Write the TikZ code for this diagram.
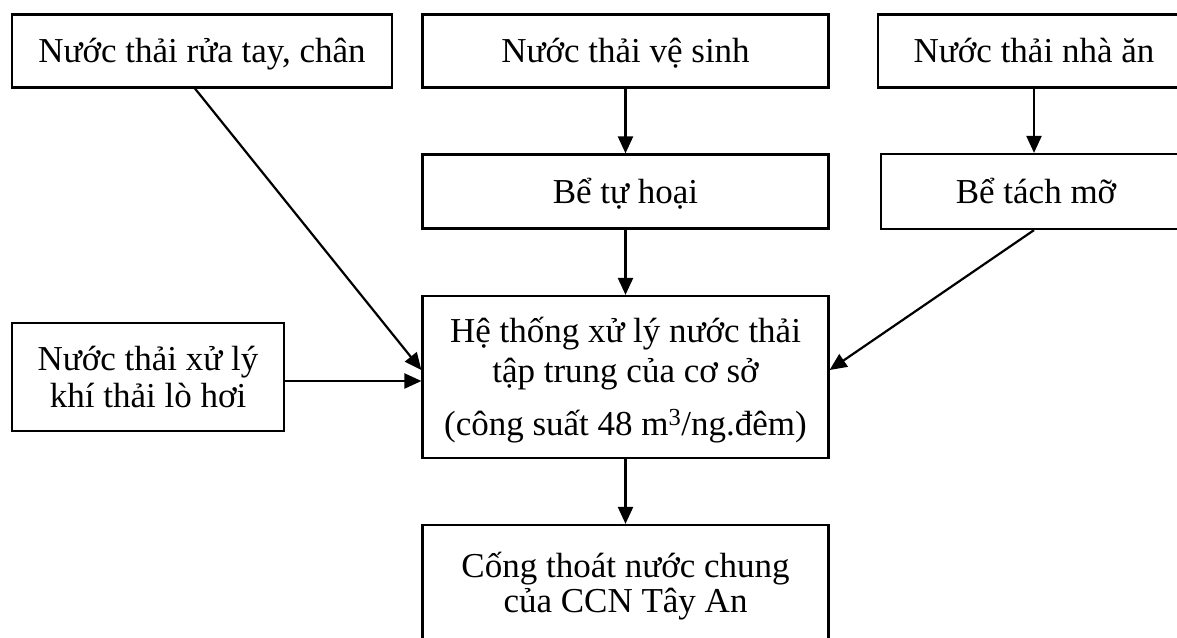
\documentclass[tikz,border=0pt]{standalone}
\usepackage{fontspec}
\setmainfont{Liberation Serif}
\usetikzlibrary{arrows.meta}
\begin{document}
\begin{tikzpicture}[x=1pt,y=-1pt,
  box/.style={draw, line width=2.2pt, align=center, inner sep=0pt,
    text height=23pt, text depth=0pt,
    font=\fontsize{35}{38}\selectfont},
  flow/.style={line width=2.2pt, -{Triangle[length=17pt,width=15pt]}}]
\useasboundingbox (0,0) rectangle (1177,637);
\clip (0,0) rectangle (1177,637);

% sources
\node[box, minimum width=380pt, minimum height=73pt] (rua) at (202,51)
  {Nước thải rửa tay, chân};
\node[box, minimum width=406pt, minimum height=73pt] (vesinh) at (625.5,51)
  {Nước thải vệ sinh};
\node[box, minimum width=312pt, minimum height=73pt] (nhaan) at (1034,51)
  {Nước thải nhà ăn};

% pre-treatment
\node[box, minimum width=406pt, minimum height=74pt] (tuhoai) at (625.5,191.5)
  {Bể tự hoại};
\node[box, minimum width=310pt, minimum height=75pt] (mo) at (1036,191.5)
  {Bể tách mỡ};

% boiler scrubber water (height = extra lines + cap height)
\node[box, minimum width=272pt, minimum height=108pt, text height=60pt,
  font=\fontsize{35}{37}\selectfont] (lo) at (148,377)
  {Nước thải xử lý\\khí thải lò hơi};

% central treatment plant
\node[box, minimum width=406pt, minimum height=162pt, text height=116pt,
  font=\fontsize{35}{40}\selectfont] (main) at (625.5,377)
  {Hệ thống xử lý nước thải\\tập trung của cơ sở\\[13pt]
   (công suất 48 m\textsuperscript{3}/ng.đêm)};

% outlet
\node[box, minimum width=406pt, minimum height=117pt, text height=58pt,
  font=\fontsize{35}{35}\selectfont] (cong) at (625.5,583.5)
  {Cống thoát nước chung\\của CCN Tây An};

% connectors
\draw[flow] ([xshift=-7pt]rua.south) -- ([yshift=7pt]main.west);
\draw[flow] (vesinh.south) -- (tuhoai.north);
\draw[flow] (nhaan.south) -- (nhaan.south |- mo.north);
\draw[flow] (tuhoai.south) -- (main.north);
\draw[flow] ([xshift=-2pt]mo.south) -- ([yshift=7pt]main.east);
\draw[flow] ([yshift=-4pt]lo.east) -- ([yshift=-4pt]main.west);
\draw[flow] (main.south) -- (cong.north);
\end{tikzpicture}
\end{document}
